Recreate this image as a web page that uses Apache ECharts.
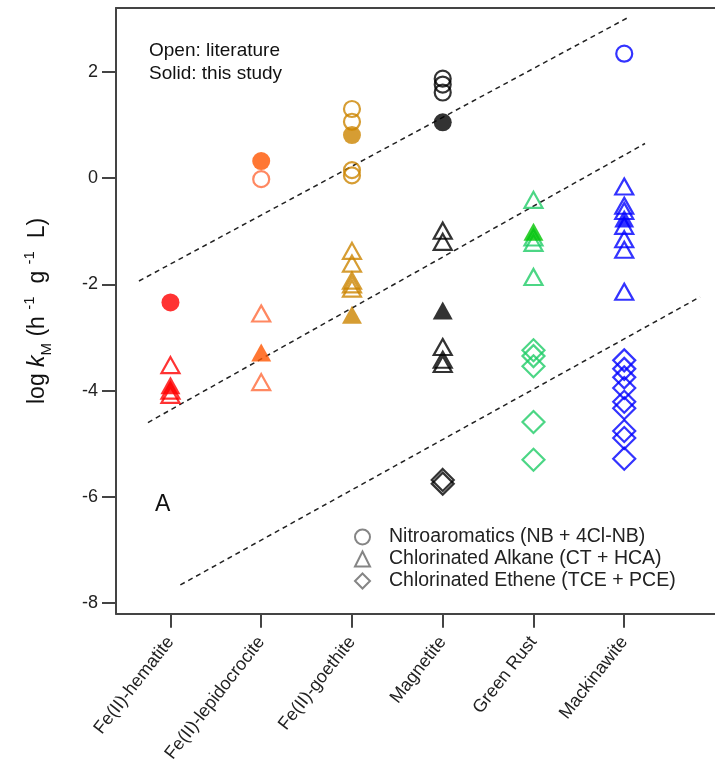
<!DOCTYPE html>
<html><head><meta charset="utf-8">
<script src="https://cdn.jsdelivr.net/npm/echarts@6/dist/echarts.min.js"></script>
<style>html,body{margin:0;padding:0;background:#fff}#c{width:715px;height:765px}</style>
</head><body><div id="c"></div>
<script>
const categories = ['Fe(II)-hematite','Fe(II)-lepidocrocite','Fe(II)-goethite','Magnetite','Green Rust','Mackinawite'];
const catPositions = [1,2,3,4,5,6];
const yTicks = [-8,-6,-4,-2,0,2];

// values per category (index 0..5)
const openCircle    = [[], [-0.02], [1.30,1.06,0.15,0.05], [1.87,1.76,1.61], [], [2.34]];
const solidCircle   = [[-2.34], [0.32], [0.81], [1.05], [], []];
const openTriangle  = [[-3.52,-4.00,-4.08], [-2.55,-3.84], [-1.37,-1.61,-1.93,-2.00,-2.08], [-0.99,-1.20,-3.18,-3.42,-3.50], [-0.41,-1.12,-1.22,-1.86], [-0.16,-0.52,-0.62,-0.90,-1.15,-1.35,-2.14]];
const solidTriangle = [[-3.90], [-3.28], [-2.57], [-2.49], [-1.01], [-0.76]];
const openDiamond   = [[], [], [], [-5.68,-5.75], [-3.24,-3.35,-3.54,-4.59,-5.30], [-3.43,-3.59,-3.75,-3.95,-4.21,-4.33,-4.76,-4.89,-5.28]];

const openColors  = ['#FF0000','#FF6A3A','#CC8500','#000000','#1FCC66','#0000FF'];
const solidColors = ['#FF0000','#FF5500','#CC8500','#000000','#00C400','#0000FF'];

const trendLines = [
  [[0.653,-1.937],[6.052,3.03]],
  [[0.752,-4.60],[6.229,0.65]],
  [[1.109,-7.656],[6.834,-2.237]]
];
const legendNames = ['Nitroaromatics (NB + 4Cl-NB)','Chlorinated Alkane (CT + HCA)','Chlorinated Ethene (TCE + PCE)'];
const legendSymbols = ['circle','triangle','diamond'];

const FONT = 'Liberation Sans, Arial, sans-serif';
const chart = echarts.init(document.getElementById('c'), null, {renderer:'canvas'});

function pts(arr, i){ return arr[i].map(v => [catPositions[i], v]); }
const series = [];
trendLines.forEach(l => series.push({
  type:'line', data:l, symbol:'none', silent:true, z:1, xAxisIndex:0, yAxisIndex:0,
  lineStyle:{type:[5,4], color:'#222', width:1.5}
}));
const openStyle = c => ({color:'rgba(255,255,255,0)', borderColor:c, borderWidth:2.2});
for (let i=0;i<6;i++){
  series.push({type:'scatter', symbol:'circle', symbolSize:16, data:pts(openCircle,i), itemStyle:openStyle(openColors[i]), silent:true, z:2});
  series.push({type:'scatter', symbol:'triangle', symbolSize:[18,16], data:pts(openTriangle,i), itemStyle:openStyle(openColors[i]), silent:true, z:2});
  series.push({type:'scatter', symbol:'diamond', symbolSize:[22,22], data:pts(openDiamond,i), itemStyle:openStyle(openColors[i]), silent:true, z:2});
}
for (let i=0;i<6;i++){
  series.push({type:'scatter', symbol:'circle', symbolSize:18, data:pts(solidCircle,i), itemStyle:{color:solidColors[i]}, silent:true, z:3});
  series.push({type:'scatter', symbol:'triangle', symbolSize:[20,18], data:pts(solidTriangle,i), itemStyle:{color:solidColors[i]}, silent:true, z:3});
}
legendNames.forEach((n,k) => series.push({
  type:'scatter', name:n, symbol:legendSymbols[k], data:[],
  itemStyle:{color:'rgba(255,255,255,0)', borderColor:'#666', borderWidth:1.5}
}));

chart.setOption({
  animation:false,
  backgroundColor:'#fff',
  grid:{left:116, right:0, top:8, bottom:149, containLabel:false},
  legend:{
    data:legendNames, orient:'vertical', left:354, top:526, padding:0,
    itemWidth:15, itemHeight:15, itemGap:0, selectedMode:false,
    textStyle:{fontSize:19.5, lineHeight:22, color:'#222', fontFamily:FONT, padding:[0,0,0,14]}
  },
  xAxis:[{
    type:'value', min:0.4, max:7, position:'bottom',
    axisLine:{show:true, onZero:false, lineStyle:{color:'#444', width:2}},
    axisTick:{show:true, length:14, customValues:catPositions, lineStyle:{color:'#444', width:2}},
    axisLabel:{customValues:catPositions, formatter:v => categories[Math.round(v)-1], rotate:52,
      fontSize:18, color:'#222', margin:25, fontFamily:FONT},
    splitLine:{show:false}
  },{
    type:'value', min:0.4, max:7, position:'top',
    axisLine:{show:true, onZero:false, lineStyle:{color:'#444', width:2}},
    axisTick:{show:false}, axisLabel:{show:false}, splitLine:{show:false}
  }],
  yAxis:{
    type:'value', min:-8.2, max:3.2,
    axisLine:{show:true, onZero:false, lineStyle:{color:'#444', width:2}},
    axisTick:{show:true, length:14, customValues:yTicks, lineStyle:{color:'#444', width:2}},
    axisLabel:{customValues:yTicks, fontSize:18, color:'#222', margin:18, fontFamily:FONT},
    splitLine:{show:false},
    name:'{n|log }{i|k}{sub|M}{n| (h }{sup|-1}{n|  g }{sup|-1}{n|  L)}',
    nameLocation:'middle', nameGap:62, nameRotate:90,
    nameTextStyle:{
      fontSize:23, color:'#111', fontFamily:FONT,
      rich:{
        n:{fontSize:23, fontFamily:FONT, color:'#111', lineHeight:32},
        i:{fontSize:23, fontStyle:'italic', fontFamily:FONT, color:'#111', lineHeight:32},
        sub:{fontSize:15, fontFamily:FONT, color:'#111', verticalAlign:'bottom', lineHeight:32, padding:[12,0,0,0]},
        sup:{fontSize:15, fontFamily:FONT, color:'#111', verticalAlign:'top', lineHeight:32, padding:[0,0,10,0]}
      }
    }
  },
  graphic:[
    {type:'text', left:149, top:39, style:{text:'Open: literature\nSolid: this study', fontSize:19, lineHeight:23, fill:'#111', fontFamily:FONT}},
    {type:'text', left:155, top:493, style:{text:'A', fontSize:23, fill:'#111', fontFamily:FONT}}
  ],
  series:series
});
</script></body></html>
